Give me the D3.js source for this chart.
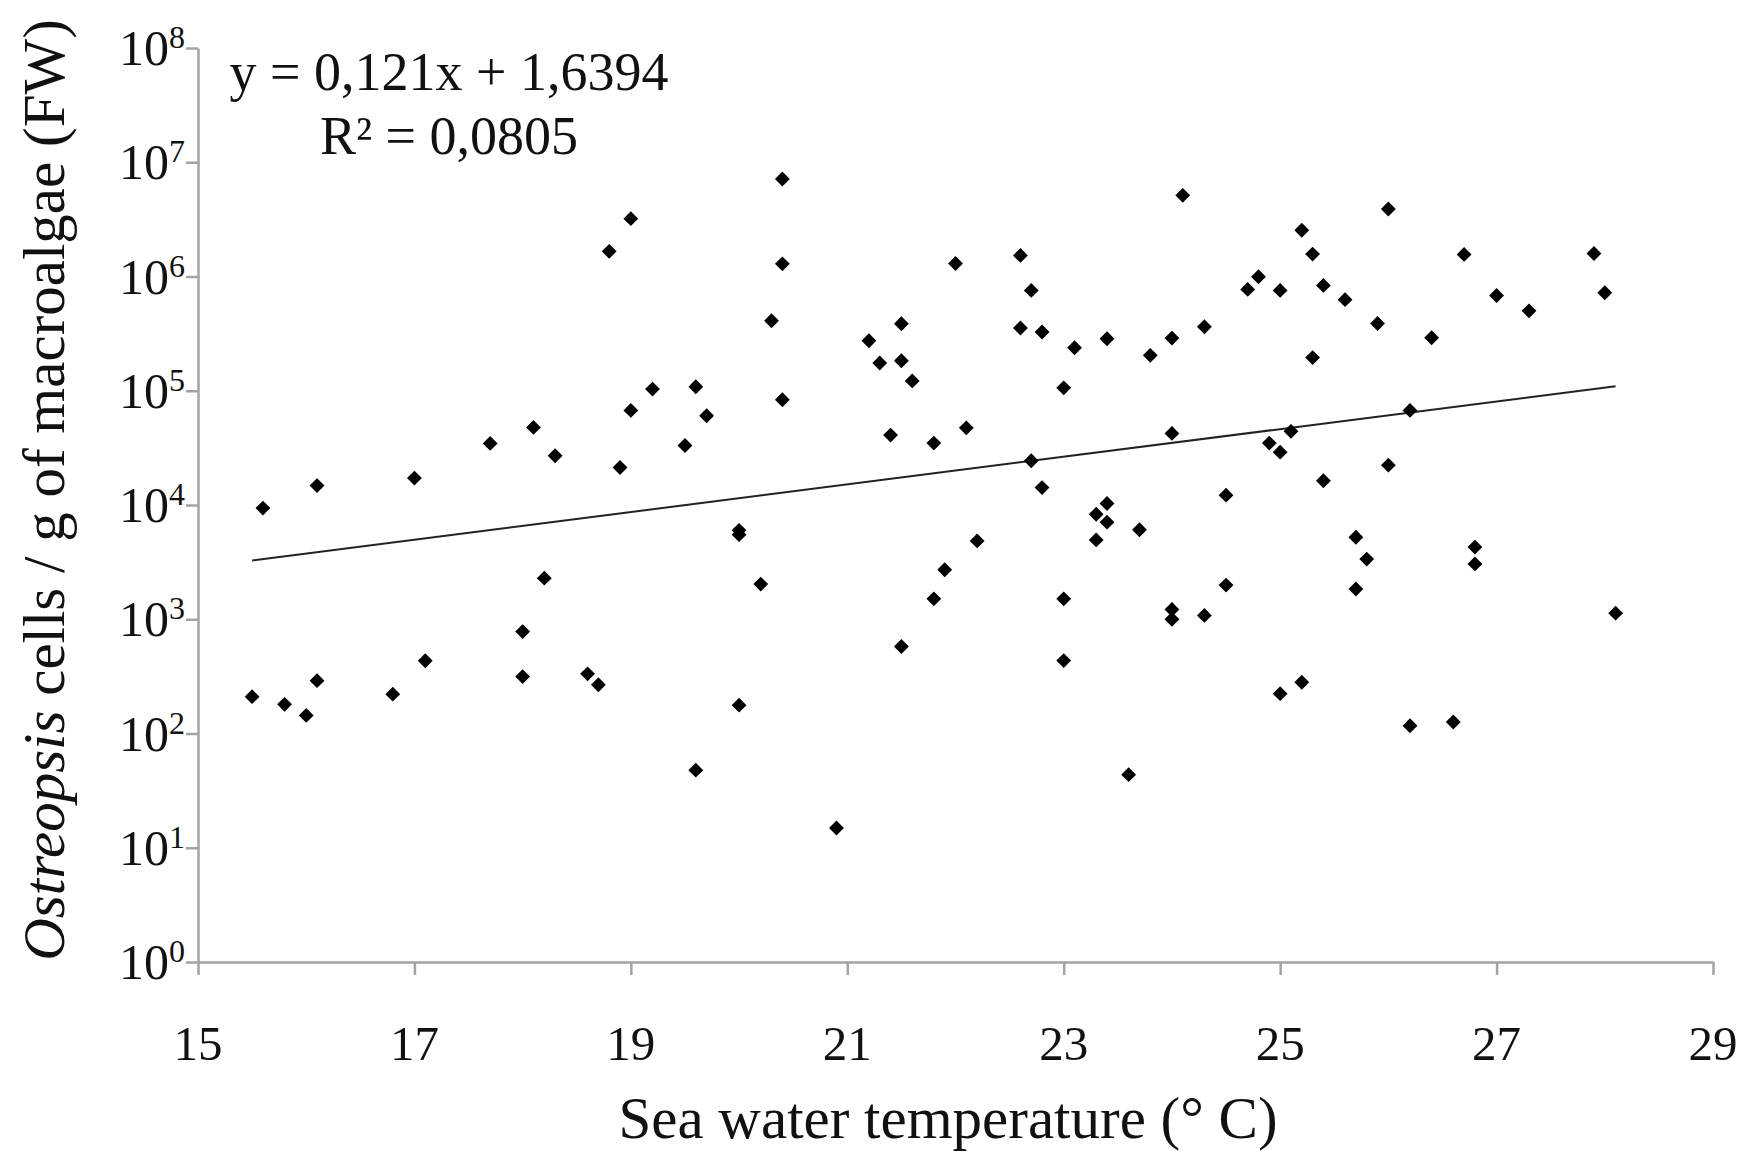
<!DOCTYPE html>
<html>
<head>
<meta charset="utf-8">
<script src="https://cdn.jsdelivr.net/npm/d3@7"></script>
<style>
  body { margin: 0; background: #fff; }
  text { font-family: "Liberation Serif", "Times New Roman", serif; fill: #111; }
</style>
</head>
<body>
<svg id="chart"></svg>
<script>
// sea water temperature (deg C) and Ostreopsis cells / g FW
var temperature = [
  15.5, 15.6, 15.8, 16.0, 16.1, 16.1, 16.8, 17.0, 17.1, 17.7,
  18.0, 18.0, 18.1, 18.2, 18.3, 18.6, 18.7, 18.8, 18.9, 19.0,
  19.0, 19.2, 19.5, 19.6, 19.6, 19.7, 20.0, 20.0, 20.0, 20.2,
  20.3, 20.4, 20.4, 20.4, 20.9, 21.2, 21.3, 21.4, 21.5, 21.5,
  21.5, 21.6, 21.8, 21.8, 21.9, 22.0, 22.1, 22.2, 22.6, 22.6,
  22.7, 22.7, 22.8, 22.8, 23.0, 23.0, 23.0, 23.1, 23.3, 23.3,
  23.4, 23.4, 23.4, 23.6, 23.7, 23.8, 24.0, 24.0, 24.0, 24.0,
  24.1, 24.3, 24.3, 24.5, 24.5, 24.7, 24.8, 24.9, 25.0, 25.0,
  25.0, 25.1, 25.2, 25.2, 25.3, 25.3, 25.4, 25.4, 25.6, 25.7,
  25.7, 25.8, 25.9, 26.0, 26.0, 26.2, 26.2, 26.4, 26.6, 26.7,
  26.8, 26.8, 27.0, 27.3, 27.9, 28.0, 28.1
];
var cells = [
  210, 9400, 180, 144, 14800, 290, 221, 17200, 433, 34600,
  780, 315, 47800, 2290, 27000, 333, 267, 1660000, 21300, 3210000,
  67300, 103500, 33200, 108400, 47.8, 60400, 6000, 5500, 177, 2030,
  410000, 7140000, 1290000, 83400, 14.9, 274000, 175000, 40900, 386000, 183000,
  577, 122000, 34800, 1510, 2710, 1300000, 47400, 4850, 1530000, 354000,
  755000, 24400, 327000, 14200, 106000, 1510, 435, 238000, 8300, 4950,
  285000, 10300, 7080, 43.6, 6070, 204000, 289000, 42300, 1220, 1000,
  5130000, 363000, 1080, 12200, 1990, 771000, 995000, 34800, 755000, 29000,
  223, 44100, 2540000, 281, 1570000, 195000, 836000, 16300, 627000, 5220,
  1840, 3360, 388000, 3900000, 22300, 67300, 117, 291000, 126, 1560000,
  4280, 3050, 682000, 501000, 1590000, 721000, 1130
];

// linear trend on log10(cells)
var trendSlope = 0.121;
var trendIntercept = 1.6394;
var trendRange = [15.5, 28.1];
var equationLines = ["y = 0,121x + 1,6394", "R\u00b2 = 0,0805"];

var xTicks = [15, 17, 19, 21, 23, 25, 27, 29];
var yExponents = [0, 1, 2, 3, 4, 5, 6, 7, 8];

var margin = {top: 48, right: 32, bottom: 192, left: 198},
    fullWidth = 1745,
    fullHeight = 1154,
    width = fullWidth - margin.left - margin.right,
    height = fullHeight - margin.top - margin.bottom;

var svg = d3.select("#chart")
    .attr("width", fullWidth)
    .attr("height", fullHeight);

var g = svg.append("g")
    .attr("transform", "translate(" + margin.left + "," + margin.top + ")");

var x = d3.scaleLinear()
    .domain([15, 29])
    .range([0, width]);

var y = d3.scaleLog()
    .domain([1, 1e8])
    .range([height, 0]);

// axes
g.append("g")
    .attr("class", "axis")
    .attr("transform", "translate(0," + height + ")")
    .call(d3.axisBottom(x).tickValues(xTicks).tickSize(13).tickSizeOuter(0).tickFormat(""));

g.append("g")
    .attr("class", "axis")
    .call(d3.axisLeft(y).tickValues(yExponents.map(function(e){ return Math.pow(10, e); }))
        .tickSize(12).tickSizeOuter(0).tickFormat(""));

svg.selectAll(".axis path, .axis line")
    .attr("stroke", "#a3a3a3")
    .attr("stroke-width", 2.5);

// x tick labels
g.selectAll(".xlabel")
    .data(xTicks)
  .enter().append("text")
    .attr("class", "xlabel")
    .attr("x", function(d){ return x(d); })
    .attr("y", height + 98)
    .attr("text-anchor", "middle")
    .style("font-size", "49px")
    .text(function(d){ return d; });

// y tick labels, 10 with superscript exponent
var ylab = g.selectAll(".ylabel")
    .data(yExponents)
  .enter().append("text")
    .attr("class", "ylabel")
    .attr("x", -13)
    .attr("y", function(d){ return y(Math.pow(10, d)) + 17; })
    .attr("text-anchor", "end")
    .style("font-size", "50px");
ylab.append("tspan").text("10");
ylab.append("tspan")
    .attr("dy", -17)
    .style("font-size", "32px")
    .text(function(d){ return d; });

// trend line
var trend = trendRange.map(function(t){
    return {t: t, v: Math.pow(10, trendSlope * t + trendIntercept)};
});
g.append("path")
    .datum(trend)
    .attr("fill", "none")
    .attr("stroke", "#222")
    .attr("stroke-width", 2)
    .attr("d", d3.line()
        .x(function(d){ return x(d.t); })
        .y(function(d){ return y(d.v); }));

// points as diamonds
var points = temperature.map(function(t, i){ return {t: t, v: cells[i]}; });
g.selectAll(".pt")
    .data(points)
  .enter().append("path")
    .attr("class", "pt")
    .attr("d", d3.symbol().type(d3.symbolSquare).size(110))
    .attr("transform", function(d){
        return "translate(" + x(d.t) + "," + y(d.v) + ") rotate(45)";
    })
    .attr("fill", "#000");

// regression equation
var eq = g.append("text")
    .attr("text-anchor", "middle")
    .style("font-size", "54px");
eq.selectAll("tspan")
    .data(equationLines)
  .enter().append("tspan")
    .attr("x", 251)
    .attr("y", function(d, i){ return 42 + i * 64; })
    .text(function(d){ return d; });

// axis titles
svg.append("text")
    .attr("x", 948)
    .attr("y", 1138)
    .attr("text-anchor", "middle")
    .style("font-size", "59px")
    .text("Sea water temperature (\u00b0 C)");

var yTitle = svg.append("text")
    .attr("transform", "translate(64,490) rotate(-90)")
    .attr("text-anchor", "middle")
    .style("font-size", "59px");
yTitle.append("tspan").style("font-style", "italic").text("Ostreopsis");
yTitle.append("tspan").text(" cells / g of macroalgae (FW)");
</script>
</body>
</html>
